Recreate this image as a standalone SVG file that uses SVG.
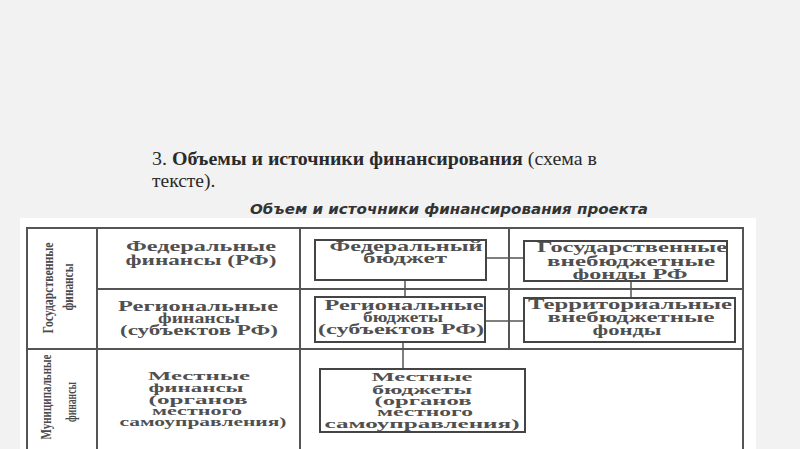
<svg xmlns="http://www.w3.org/2000/svg" width="800" height="449" viewBox="0 0 800 449">
<defs>
<style>
.bg{fill:#f2f2f2}
.scan{fill:#ffffff}
.frame{stroke:#555;stroke-width:2;fill:none}
.box{fill:#ffffff;stroke:#444;stroke-width:2}
.conn{stroke:#555;stroke-width:1.5;fill:none}
.t{font-family:"Liberation Serif","DejaVu Serif",serif;font-weight:bold;font-size:14px;fill:#505050;text-anchor:middle}
.s{font-size:12px}
.v{font-family:"Liberation Serif","DejaVu Serif",serif;font-weight:bold;font-size:15px;fill:#4a4a4a;text-anchor:middle}
.h{font-family:"Liberation Serif","Times New Roman",serif;font-size:19.5px;fill:#2a2a2a}
.sub{font-family:"DejaVu Sans","Liberation Sans",sans-serif;font-weight:bold;font-style:italic;font-size:13.5px;fill:#333}
</style>
</defs>
<rect class="bg" x="0" y="0" width="800" height="449"/>
<g id="heading">
<text class="h" x="152" y="165" textLength="445" lengthAdjust="spacingAndGlyphs">3. <tspan font-weight="bold">Объемы и источники финансирования</tspan> (схема в</text>
<text class="h" x="152" y="187">тексте).</text>
</g>
<g id="title">
<text class="sub" x="250" y="214" textLength="398" lengthAdjust="spacingAndGlyphs">Объем и источники финансирования проекта</text>
</g>
<rect class="scan" x="20" y="218" width="736" height="231"/>
<g id="table-frame">
<path class="frame" d="M27 449 V228 H743 V449"/>
<path class="frame" d="M97 228 V449 M300 228 V449 M509 228 V349"/>
<path class="frame" d="M97 289 H743 M27 349 H743"/>
</g>
<g id="connectors">
<path class="conn" d="M405 280 V297"/>
<path class="conn" d="M487 258 H524"/>
<path class="conn" d="M631 280 V298"/>
<path class="conn" d="M485 321 H524"/>
<path class="conn" d="M403 342 V369"/>
</g>
<g id="gos-finansy">
<text class="v" transform="translate(53,288) rotate(-90)" textLength="91" lengthAdjust="spacingAndGlyphs">Государственные</text>
<text class="v" transform="translate(73,287) rotate(-90)" textLength="47" lengthAdjust="spacingAndGlyphs">финансы</text>
</g>
<g id="mun-finansy">
<text class="v" transform="translate(51,397) rotate(-90)" textLength="85" lengthAdjust="spacingAndGlyphs">Муниципальные</text>
<text class="v" transform="translate(76,402) rotate(-90)" textLength="40" lengthAdjust="spacingAndGlyphs">финансы</text>
</g>
<g id="fed-finansy">
<text class="t" x="201" y="251" textLength="150" lengthAdjust="spacingAndGlyphs">Федеральные</text>
<text class="t" x="201" y="265" textLength="151" lengthAdjust="spacingAndGlyphs">финансы (РФ)</text>
</g>
<g id="reg-finansy">
<text class="t" x="198" y="311" textLength="160" lengthAdjust="spacingAndGlyphs">Региональные</text>
<text class="t" x="199" y="323" textLength="82" lengthAdjust="spacingAndGlyphs">финансы</text>
<text class="t" x="199" y="335" textLength="158" lengthAdjust="spacingAndGlyphs">(субъектов РФ)</text>
</g>
<g id="mest-finansy">
<text class="t s" x="199" y="380" textLength="102" lengthAdjust="spacingAndGlyphs">Местные</text>
<text class="t s" x="196" y="392" textLength="95" lengthAdjust="spacingAndGlyphs">финансы</text>
<text class="t s" x="198" y="404" textLength="99" lengthAdjust="spacingAndGlyphs">(органов</text>
<text class="t s" x="197" y="415" textLength="90" lengthAdjust="spacingAndGlyphs">местного</text>
<text class="t s" x="203" y="426" textLength="167" lengthAdjust="spacingAndGlyphs">самоуправления)</text>
</g>
<g id="fed-budget">
<rect class="box" x="315" y="240" width="171" height="40"/>
<text class="t" x="406" y="251" textLength="153" lengthAdjust="spacingAndGlyphs">Федеральный</text>
<text class="t" x="405" y="263" textLength="84" lengthAdjust="spacingAndGlyphs">бюджет</text>
</g>
<g id="reg-budget">
<rect class="box" x="315" y="297" width="170" height="45"/>
<text class="t" x="404" y="310" textLength="159" lengthAdjust="spacingAndGlyphs">Региональные</text>
<text class="t" x="403" y="322" textLength="80" lengthAdjust="spacingAndGlyphs">бюджеты</text>
<text class="t" x="401" y="334" textLength="166" lengthAdjust="spacingAndGlyphs">(субъектов РФ)</text>
</g>
<g id="gos-vnebudget">
<rect class="box" x="524" y="241" width="203" height="40"/>
<text class="t" x="632" y="252" textLength="190" lengthAdjust="spacingAndGlyphs">Государственные</text>
<text class="t" x="631" y="266" textLength="168" lengthAdjust="spacingAndGlyphs">внебюджетные</text>
<text class="t" x="630" y="279" textLength="115" lengthAdjust="spacingAndGlyphs">фонды РФ</text>
</g>
<g id="terr-vnebudget">
<rect class="box" x="524" y="298" width="211" height="44"/>
<text class="t" x="630" y="309" textLength="204" lengthAdjust="spacingAndGlyphs">Территориальные</text>
<text class="t" x="631" y="322" textLength="167" lengthAdjust="spacingAndGlyphs">внебюджетные</text>
<text class="t" x="627" y="335" textLength="69" lengthAdjust="spacingAndGlyphs">фонды</text>
</g>
<g id="mest-budget">
<rect class="box" x="320" y="369" width="205" height="63"/>
<text class="t s" x="422" y="381" textLength="101" lengthAdjust="spacingAndGlyphs">Местные</text>
<text class="t s" x="422" y="394" textLength="100" lengthAdjust="spacingAndGlyphs">бюджеты</text>
<text class="t s" x="423" y="405" textLength="97" lengthAdjust="spacingAndGlyphs">(органов</text>
<text class="t s" x="425" y="416" textLength="96" lengthAdjust="spacingAndGlyphs">местного</text>
<text class="t s" x="422" y="428" textLength="195" lengthAdjust="spacingAndGlyphs">самоуправления)</text>
</g>
</svg>
